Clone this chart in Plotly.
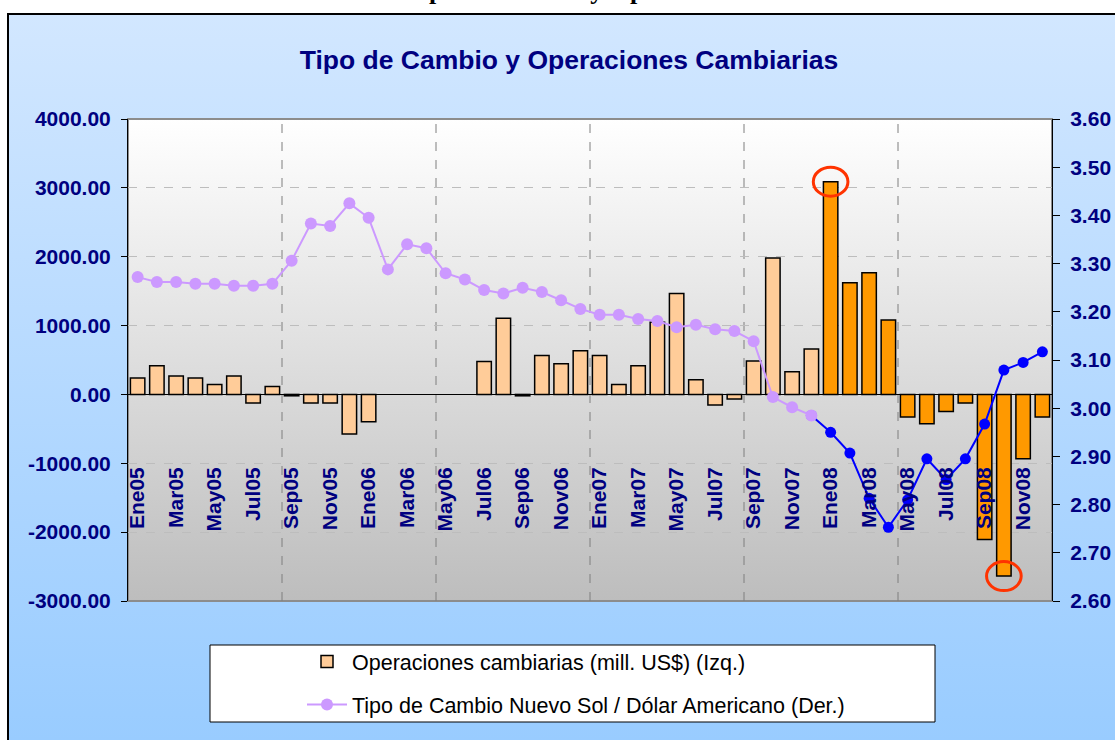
import base64
import plotly.graph_objects as go

# ---------------- data ----------------
months = ["Ene", "Feb", "Mar", "Abr", "May", "Jun", "Jul", "Ago", "Sep", "Oct", "Nov", "Dic"]
years = ["05", "06", "07", "08"]
categories = [m + y for y in years for m in months]

# Operaciones cambiarias (mill. US$) - left axis
operaciones = [
    240, 416, 266, 237, 145, 266, -126, 116, -20, -126, -126, -576,      # 2005
    -397, None, None, None, None, None, 479, 1108, -20, 566, 445, 634,   # 2006
    566, 145, 416, 1050, 1467, 213, -155, -68, 484, 1980, 329, 658,      # 2007
    3089, 1622, 1767, 1080, -329, -426, -247, -126, -2106, -2638, -934, -329,  # 2008
]

# Tipo de cambio Nuevo Sol / Dolar - right axis
tipo_cambio = [
    3.272, 3.262, 3.262, 3.258, 3.258, 3.254, 3.254, 3.258, 3.306, 3.383, 3.378, 3.425,
    3.395, 3.288, 3.340, 3.332, 3.280, 3.267, 3.245, 3.238, 3.250, 3.241, 3.224, 3.206,
    3.194, 3.194, 3.185, 3.181, 3.168, 3.173, 3.164, 3.160, 3.139, 3.023, 3.002, 2.985,
    2.950, 2.907, 2.813, 2.753, 2.810, 2.895, 2.852, 2.895, 2.967, 3.079, 3.095, 3.117,
]

highlight = ["Ene08", "Oct08"]
left_ticks = [4000, 3000, 2000, 1000, 0, -1000, -2000, -3000]

# ---------------- layout helpers ----------------
W, H = 1115, 740
PL, PR, PT, PB = 128, 1052, 119, 601


def px_x(px):
    return (px - PL) / (PR - PL)


def px_y(py):
    return (PB - py) / (PB - PT)


def grad(top, bottom):
    svg = ('<svg xmlns="http://www.w3.org/2000/svg" width="10" height="100" '
           'viewBox="0 0 10 100" preserveAspectRatio="none"><defs>'
           '<linearGradient id="g" x1="0" y1="0" x2="0" y2="1">'
           f'<stop offset="0" stop-color="{top}"/><stop offset="1" stop-color="{bottom}"/>'
           '</linearGradient></defs><rect width="10" height="100" fill="url(#g)"/></svg>')
    return "data:image/svg+xml;base64," + base64.b64encode(svg.encode()).decode()


NAVY = "#000080"
SANS = "Liberation Sans, Arial, sans-serif"

bar_colors = ["#FF9900" if c.endswith("08") else "#FFCC99" for c in categories]
split = categories.index("Dic07")

fig = go.Figure()
fig.add_trace(go.Bar(
    x=categories, y=operaciones, name="Operaciones cambiarias (mill. US$) (Izq.)",
    marker=dict(color=bar_colors, line=dict(color="black", width=1.5)),
    legendgroup="a", yaxis="y",
))
fig.add_trace(go.Scatter(
    x=categories[split:], y=tipo_cambio[split:], mode="lines+markers",
    line=dict(color="#0000FF", width=2), marker=dict(color="#0000FF", size=11),
    showlegend=False, legendgroup="c", yaxis="y2",
))
fig.add_trace(go.Scatter(
    x=categories[:split + 1], y=tipo_cambio[:split + 1], mode="lines+markers",
    name="Tipo de Cambio Nuevo Sol / Dólar Americano (Der.)",
    line=dict(color="#CC99FF", width=2), marker=dict(color="#CC99FF", size=12),
    legendgroup="b", yaxis="y2",
))

shapes = []
# outer frame
shapes.append(dict(type="rect", xref="paper", yref="paper",
                   x0=px_x(8), x1=px_x(W + 20), y0=px_y(H + 20), y1=px_y(14),
                   line=dict(color="black", width=2), layer="below"))
# plot area border
shapes.append(dict(type="rect", xref="paper", yref="paper", x0=0, x1=1, y0=0, y1=1,
                   line=dict(color="#8C8C8C", width=2), layer="below"))
# vertical dashed gridlines every 8 categories
for i in range(8, len(categories), 8):
    shapes.append(dict(type="line", xref="x", yref="paper", x0=i - 0.5, x1=i - 0.5, y0=0, y1=1,
                       line=dict(color="#7F7F7F", width=1, dash="dash"), layer="below"))
# red highlight ellipses
for c in highlight:
    i = categories.index(c)
    v = operaciones[i]
    shapes.append(dict(type="circle", xref="x", yref="y", x0=i - 0.9, x1=i + 0.9,
                       y0=v - 210, y1=v + 210, line=dict(color="#FF3300", width=3), layer="above"))
# legend box
shapes.append(dict(type="rect", xref="paper", yref="paper",
                   x0=px_x(210), x1=px_x(935), y0=px_y(722), y1=px_y(645),
                   fillcolor="white", line=dict(color="black", width=1), layer="above"))

images = [
    dict(source=grad("#D2E7FF", "#99CCFF"), xref="paper", yref="paper",
         x=px_x(9), y=px_y(15), sizex=(W - 9) / (PR - PL), sizey=(H - 15) / (PB - PT),
         xanchor="left", yanchor="top", sizing="stretch", layer="below"),
    dict(source=grad("#FFFFFF", "#BDBDBD"), xref="paper", yref="paper",
         x=0, y=1, sizex=1, sizey=1, xanchor="left", yanchor="top", sizing="stretch", layer="below"),
]

fig.update_layout(
    width=W, height=H,
    margin=dict(l=PL, r=W - PR, t=PT, b=H - PB, autoexpand=False),
    paper_bgcolor="white", plot_bgcolor="rgba(0,0,0,0)",
    bargap=0.25,
    title=dict(text="Tipo de Cambio y Operaciones Cambiarias", x=569 / W, xanchor="center",
               y=1 - 60 / H, yanchor="middle", xref="container", yref="container",
               font=dict(family=SANS, size=26.5, color=NAVY, weight="bold")),
    xaxis=dict(type="category", range=[-0.5, len(categories) - 0.5],
               anchor="free", position=px_y(462), showline=False, ticks="", showgrid=False,
               tickvals=categories[::2], ticktext=categories[::2], tickangle=-90,
               tickfont=dict(family=SANS, size=21, color=NAVY, weight="bold")),
    yaxis=dict(range=[-3000, 4000], tickvals=left_ticks, ticktext=[f"{v:.2f}" for v in left_ticks],
               showgrid=True, gridcolor="#BDBDBD", griddash="dash", gridwidth=1,
               zeroline=True, zerolinecolor="black", zerolinewidth=1,
               showline=True, linecolor="black", linewidth=1,
               ticks="outside", ticklen=6, tickcolor="black", ticklabelstandoff=6,
               tickfont=dict(family=SANS, size=21, color=NAVY, weight="bold")),
    yaxis2=dict(range=[2.6, 3.6], dtick=0.1, tickformat=".2f", overlaying="y", side="right",
                anchor="x", showgrid=False, zeroline=False,
                showline=True, linecolor="black", linewidth=1,
                ticks="outside", ticklen=7, tickcolor="black", ticklabelstandoff=6,
                tickfont=dict(family=SANS, size=21, color=NAVY, weight="bold")),
    legend=dict(x=px_x(302), xanchor="left", y=px_y(641), yanchor="top",
                bgcolor="rgba(0,0,0,0)", borderwidth=0, traceorder="grouped",
                tracegroupgap=12, itemwidth=40,
                font=dict(family=SANS, size=21.5, color="black")),
    shapes=shapes, images=images,
    annotations=[dict(text="<b>Tipo de Cambio y Operaciones Cambiarias</b>", xref="paper", yref="paper",
                      x=px_x(403), xanchor="left", y=px_y(-10), yanchor="middle", showarrow=False,
                      font=dict(family="Liberation Serif, Times New Roman, serif", size=26, color="black"))],
)

fig.write_html("out.html", config={"displayModeBar": False},
               post_script="document.body.style.margin='0';")
